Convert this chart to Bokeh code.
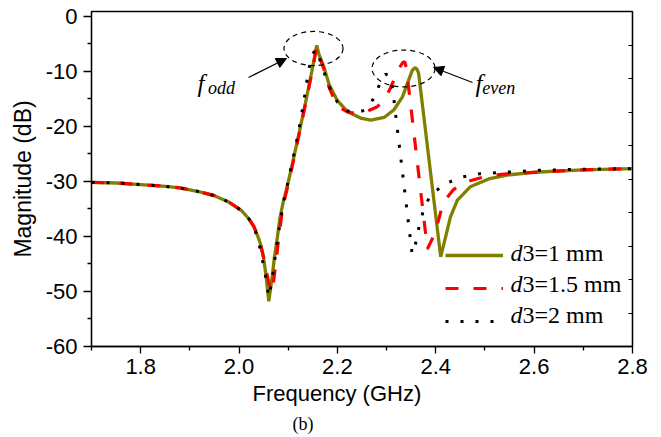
from bokeh.plotting import figure
from bokeh.models import (Range1d, FixedTicker, NumeralTickFormatter, LinearAxis, Legend,
                          LegendItem, Label, Arrow, NormalHead, Title)
from bokeh.embed import file_html
from bokeh.resources import INLINE

# ---------------- data ----------------
freq_d1 = [1.70, 1.75, 1.80, 1.85, 1.88, 1.92, 1.95, 1.98, 2.005, 2.02, 2.03, 2.04, 2.045, 2.05,
           2.055, 2.058, 2.0605, 2.064, 2.0675, 2.072, 2.078, 2.083, 2.09, 2.0993, 2.11, 2.122,
           2.135, 2.148, 2.154, 2.158, 2.162, 2.1725, 2.1827, 2.1997, 2.22, 2.247, 2.268, 2.295,
           2.315, 2.332, 2.342, 2.352, 2.357, 2.361, 2.365, 2.41, 2.42, 2.43, 2.444, 2.47, 2.51,
           2.55, 2.61, 2.70, 2.80]
mag_d1 = [-30.2, -30.3, -30.6, -30.9, -31.2, -31.9, -32.6, -33.8, -35.3, -36.8, -38.2, -40.4, -41.8,
          -44.0, -47.2, -49.8, -51.8, -49.5, -47.3, -43.7, -40.1, -36.7, -33.7, -30.4, -26.2, -21.3,
          -15.8, -10.0, -7.2, -5.3, -6.8, -9.2, -12.3, -15.3, -17.3, -18.5, -18.9, -18.4, -17.0,
          -14.7, -12.3, -9.9, -9.4, -9.5, -10.3, -43.7, -40.1, -36.4, -33.4, -31.0, -29.5, -28.8,
          -28.3, -27.9, -27.7]

freq_d15 = [1.70, 1.75, 1.80, 1.85, 1.88, 1.92, 1.95, 1.98, 2.005, 2.02, 2.03, 2.04, 2.05, 2.055,
            2.06, 2.0655, 2.07, 2.075, 2.08, 2.085, 2.09, 2.10, 2.11, 2.122, 2.135, 2.148, 2.154,
            2.158, 2.162, 2.1725, 2.183, 2.193, 2.205, 2.22, 2.24, 2.26, 2.28, 2.295, 2.308, 2.318,
            2.326, 2.333, 2.337, 2.34, 2.383, 2.39, 2.397, 2.403, 2.41, 2.42, 2.435, 2.45, 2.47,
            2.505, 2.55, 2.61, 2.70, 2.80]
mag_d15 = [-30.2, -30.3, -30.6, -30.9, -31.2, -31.9, -32.6, -33.8, -35.3, -36.8, -38.2, -40.3, -43.8,
           -46.0, -48.3, -50.0, -48.3, -44.8, -40.8, -37.2, -34.3, -30.5, -26.5, -21.5, -16.0, -10.3,
           -7.4, -5.5, -7.0, -9.6, -12.9, -15.0, -16.6, -17.4, -17.7, -17.3, -16.5, -15.4, -13.0,
           -11.0, -9.4, -8.4, -8.3, -9.3, -42.3, -41.0, -39.6, -37.9, -35.6, -33.3, -31.6, -30.6,
           -29.9, -29.0, -28.6, -28.3, -27.9, -27.7]

freq_d2 = [1.70, 1.75, 1.80, 1.85, 1.88, 1.92, 1.95, 1.98, 2.005, 2.02, 2.03, 2.04, 2.047, 2.054,
           2.0605, 2.064, 2.0695, 2.0742, 2.08, 2.09, 2.0993, 2.11, 2.122, 2.132, 2.142, 2.15, 2.156,
           2.161, 2.169, 2.18, 2.19, 2.20, 2.22, 2.24, 2.255, 2.268, 2.278, 2.288, 2.298, 2.308,
           2.313, 2.318, 2.352, 2.359, 2.366, 2.375, 2.389, 2.42, 2.454, 2.491, 2.55, 2.61, 2.70,
           2.80]
mag_d2 = [-30.2, -30.3, -30.6, -30.9, -31.2, -31.9, -32.6, -33.8, -35.3, -36.8, -38.2, -41.0, -44.0,
          -47.3, -51.0, -49.4, -46.4, -43.2, -39.5, -33.9, -30.2, -25.8, -20.5, -15.3, -9.5, -6.8,
          -6.0, -7.0, -9.2, -12.0, -14.2, -15.6, -17.2, -17.5, -17.1, -15.8, -14.2, -11.8, -10.5,
          -11.0, -13.6, -17.6, -43.2, -41.3, -38.2, -35.2, -32.5, -30.4, -29.2, -28.6, -28.3,
          -28.0, -27.8, -27.7]

series_labels = ["3=1 mm", "3=1.5 mm", "3=2 mm"]   # preceded by italic "d"

x_ticks = [1.8, 2.0, 2.2, 2.4, 2.6, 2.8]
x_minor = [1.7, 1.9, 2.1, 2.3, 2.5, 2.7]
y_ticks = [0, -10, -20, -30, -40, -50, -60]
y_minor = [-5, -15, -25, -35, -45, -55]

x_label = "Frequency (GHz)"
y_label = "Magnitude (dB)"
caption = "(b)"

# annotation placement (data units)
ellipse_x = [2.1514, 2.3344]
ellipse_y = [-5.87, -9.50]
ellipse_w = [0.120, 0.128]
ellipse_h = [6.2, 6.7]

# ---------------- figure ----------------
p = figure(width=661, height=437, x_range=Range1d(1.7, 2.8), y_range=Range1d(-60, 0.85),
           output_backend="svg", toolbar_location=None,
           min_border_left=91, min_border_right=29, min_border_top=11, min_border_bottom=91)
p.background_fill_color = "white"
p.border_fill_color = "white"
p.grid.visible = False
p.outline_line_color = "black"
p.outline_line_width = 1.3

AX_FONT = "Liberation Sans"
SERIF = "Liberation Serif"

xa = p.xaxis[0]
xa.ticker = FixedTicker(ticks=x_ticks, minor_ticks=x_minor)
xa.formatter = NumeralTickFormatter(format="0.0")
ya = p.yaxis[0]
ya.ticker = FixedTicker(ticks=y_ticks, minor_ticks=y_minor)
ya.formatter = NumeralTickFormatter(format="0")
for ax in (xa, ya):
    ax.axis_line_color = "black"
    ax.axis_line_width = 1.3
    ax.major_tick_line_color = "black"
    ax.major_tick_line_width = 1.3
    ax.minor_tick_line_color = "black"
    ax.minor_tick_line_width = 1.3
    ax.major_tick_in = 0
    ax.minor_tick_in = 0
    ax.major_label_text_font = AX_FONT
    ax.major_label_text_font_size = "22px"
    ax.major_label_text_color = "black"
xa.major_tick_out = 7
xa.minor_tick_out = 4
xa.major_label_standoff = 5
ya.major_tick_out = 8
ya.minor_tick_out = 4
ya.major_label_standoff = 6
ya.axis_label = y_label
ya.axis_label_text_font = AX_FONT
ya.axis_label_text_font_size = "23px"
ya.axis_label_text_font_style = "normal"
ya.axis_label_text_color = "black"
ya.axis_label_standoff = 7

# right frame ticks (inward, unlabeled)
p.extra_y_ranges = {"frame": Range1d(0, 10)}
ra = LinearAxis(y_range_name="frame", ticker=FixedTicker(ticks=[1, 2, 3, 4, 5, 6, 7, 8, 9]),
                major_tick_in=4, major_tick_out=0, minor_tick_out=0, minor_tick_in=0,
                major_label_text_alpha=0, major_label_text_font_size="8px",
                axis_line_color="black", axis_line_width=1.3, major_tick_line_width=1.0)
p.add_layout(ra, "right")

# x-axis title and caption as titles below the axis
p.add_layout(Title(text=x_label, align="left", offset=161, standoff=5,
                   text_font=AX_FONT, text_font_size="22px", text_font_style="normal",
                   text_color="black"), "below")
p.add_layout(Title(text=caption, align="left", offset=201, standoff=6,
                   text_font=SERIF, text_font_size="18px", text_font_style="normal",
                   text_color="black"), "below")

# ---------------- curves ----------------
r1 = p.line(freq_d1, mag_d1, line_color="#808000", line_width=3.3)
r2 = p.line(freq_d15, mag_d15, line_color="#FF0000", line_width=3.2, line_dash="13 15")
r3 = p.line(freq_d2, mag_d2, line_color="black", line_width=3, line_dash="3 12")

# ellipses
p.ellipse(x=ellipse_x, y=ellipse_y, width=ellipse_w, height=ellipse_h, fill_alpha=0,
          line_color="black", line_width=1.2, line_dash="5 4")

# arrows
p.add_layout(Arrow(end=NormalHead(size=10, fill_color="black", line_color="black"),
                   x_start=2.0192, y_start=-11.14, x_end=2.0965, y_end=-7.69,
                   line_color="black", line_width=1.2))
p.add_layout(Arrow(end=NormalHead(size=10, fill_color="black", line_color="black"),
                   x_start=2.4747, y_start=-12.05, x_end=2.3954, y_end=-9.32,
                   line_color="black", line_width=1.2))

# f_odd / f_even labels
p.add_layout(Label(x=1.9155, y=-14.6, text="f", text_font=SERIF, text_font_style="italic",
                   text_font_size="25px", text_color="black"))
p.add_layout(Label(x=1.937, y=-14.8, text="odd", text_font=SERIF, text_font_style="italic",
                   text_font_size="18px", text_color="black"))
p.add_layout(Label(x=2.4808, y=-14.6, text="f", text_font=SERIF, text_font_style="italic",
                   text_font_size="25px", text_color="black"))
p.add_layout(Label(x=2.4945, y=-14.8, text="even", text_font=SERIF, text_font_style="italic",
                   text_font_size="18px", text_color="black"))

# legend (glyphs) + text labels
legend = Legend(items=[LegendItem(label=" ", renderers=[r1]),
                       LegendItem(label=" ", renderers=[r2]),
                       LegendItem(label=" ", renderers=[r3])],
                location=(354, 10), padding=0, margin=0, spacing=3,
                glyph_width=58, glyph_height=30, label_height=20, label_width=10,
                label_text_font_size="6px",
                border_line_alpha=0, background_fill_alpha=0)
p.add_layout(legend)

leg_y = [-45.3, -51.0, -56.7]
for lab, yy in zip(series_labels, leg_y):
    p.add_layout(Label(x=2.552, y=yy, text="d", text_font=SERIF, text_font_style="italic",
                       text_font_size="24px", text_color="black"))
    p.add_layout(Label(x=2.5764, y=yy, text=lab, text_font=SERIF,
                       text_font_size="24px", text_color="black"))

open("out.html", "w").write(file_html(p, INLINE))
